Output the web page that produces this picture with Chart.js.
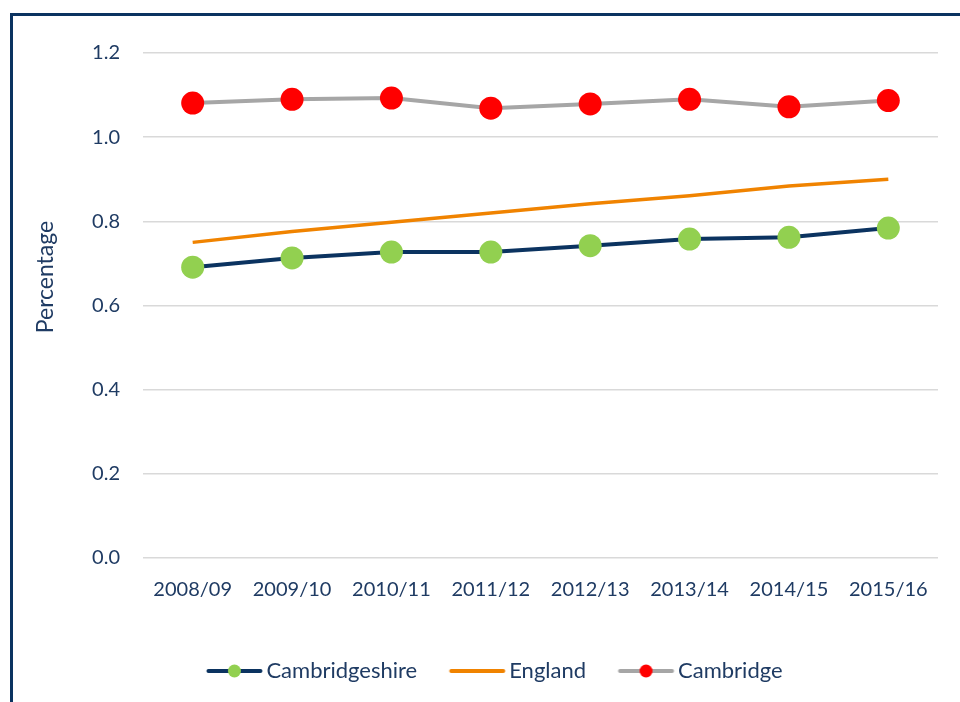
<!DOCTYPE html>
<html>
<head>
<meta charset="utf-8">
<script src="https://cdn.jsdelivr.net/npm/chart.js@4"></script>
<style>
  html, body { margin: 0; padding: 0; background: #fff; overflow: hidden; }
  #wrap { position: relative; width: 960px; height: 702px; }
  #frame { position: absolute; left: 10px; top: 13px; width: 980px; height: 720px;
           border-left: 3px solid #0b3360; border-top: 3px solid #0b3360; }
  canvas { position: absolute; left: 0; top: 0; }
</style>
</head>
<body>
<div id="wrap">
  <div id="frame"></div>
  <canvas id="chart" width="960" height="702"></canvas>
</div>
<script>
const years = ['2008/09', '2009/10', '2010/11', '2011/12', '2012/13', '2013/14', '2014/15', '2015/16'];
const cambridgeshire = [0.691, 0.713, 0.727, 0.727, 0.742, 0.758, 0.762, 0.784];
const england = [0.750, 0.776, 0.798, 0.820, 0.842, 0.861, 0.884, 0.900];
const cambridge = [1.081, 1.090, 1.093, 1.069, 1.079, 1.090, 1.072, 1.087];

const textBlue = '#1f3b63';
const font = 'Lato, "Open Sans", sans-serif';

// legend symbol: line with an optional dot, drawn off-centre so the
// text sits close to the line end
function swatch(lineColor, dotColor) {
  const c = document.createElement('canvas');
  c.width = 100; c.height = 16;
  const g = c.getContext('2d');
  g.strokeStyle = lineColor;
  g.lineWidth = 4;
  g.lineCap = 'round';
  g.beginPath(); g.moveTo(38.5, 8); g.lineTo(90.5, 8); g.stroke();
  if (dotColor) {
    g.fillStyle = dotColor;
    g.beginPath(); g.arc(64.5, 8, 6.5, 0, Math.PI * 2); g.fill();
  }
  return c;
}

// axis title sits a bit above the middle of the axis, so draw it by hand
const yTitle = {
  id: 'yTitle',
  afterDraw(chart) {
    const g = chart.ctx;
    g.save();
    g.translate(46, 277);
    g.rotate(-Math.PI / 2);
    g.fillStyle = textBlue;
    g.font = '23px ' + font;
    g.textAlign = 'center';
    g.textBaseline = 'middle';
    g.fillText('Percentage', 0, 0);
    g.restore();
  }
};

(function() {
  const ctx = document.getElementById('chart');

  new Chart(ctx, {
    type: 'line',
    plugins: [yTitle],
    data: {
      labels: years,
      datasets: [
        {
          label: 'Cambridgeshire',
          data: cambridgeshire,
          borderColor: '#0b3360',
          backgroundColor: '#92d050',
          borderWidth: 4,
          pointRadius: 11.5,
          pointBorderWidth: 0,
          pointBackgroundColor: '#92d050',
          legendIcon: swatch('#0b3360', '#92d050')
        },
        {
          label: 'England',
          data: england,
          borderColor: '#f08300',
          backgroundColor: '#f08300',
          borderWidth: 3.5,
          pointRadius: 0,
          legendIcon: swatch('#f08300', null)
        },
        {
          label: 'Cambridge',
          data: cambridge,
          borderColor: '#a6a6a6',
          backgroundColor: '#ff0000',
          borderWidth: 4,
          pointRadius: 11.5,
          pointBorderWidth: 0,
          pointBackgroundColor: '#ff0000',
          legendIcon: swatch('#a6a6a6', '#ff0000')
        }
      ]
    },
    options: {
      responsive: false,
      animation: false,
      layout: { padding: { left: 29, right: 22, top: 53, bottom: 10 } },
      scales: {
        x: {
          offset: true,
          grid: { display: false },
          border: { display: false },
          afterFit: (scale) => { scale.height = 92; },
          ticks: { color: textBlue, font: { family: font, size: 20 }, padding: 12, maxRotation: 0 }
        },
        y: {
          min: 0,
          max: 1.2,
          grid: { color: '#d9d9d9', lineWidth: 1.5, drawTicks: false },
          border: { display: false },
          afterFit: (scale) => { scale.width = 114; },
          ticks: {
            stepSize: 0.2,
            color: textBlue,
            font: { family: font, size: 20 },
            padding: 23,
            callback: (v) => v.toFixed(1)
          }
        }
      },
      plugins: {
        legend: {
          position: 'bottom',
          labels: {
            usePointStyle: true,
            pointStyleWidth: 71,
            color: textBlue,
            font: { family: font, size: 22 },
            padding: 10,
            generateLabels: (chart) => chart.data.datasets.map((ds, i) => ({
              text: ds.label,
              pointStyle: ds.legendIcon,
              fillStyle: ds.borderColor,
              strokeStyle: ds.borderColor,
              lineWidth: 0,
              fontColor: textBlue,
              hidden: false,
              datasetIndex: i
            }))
          }
        },
        tooltip: { enabled: false }
      }
    }
  });
})();
</script>
</body>
</html>
